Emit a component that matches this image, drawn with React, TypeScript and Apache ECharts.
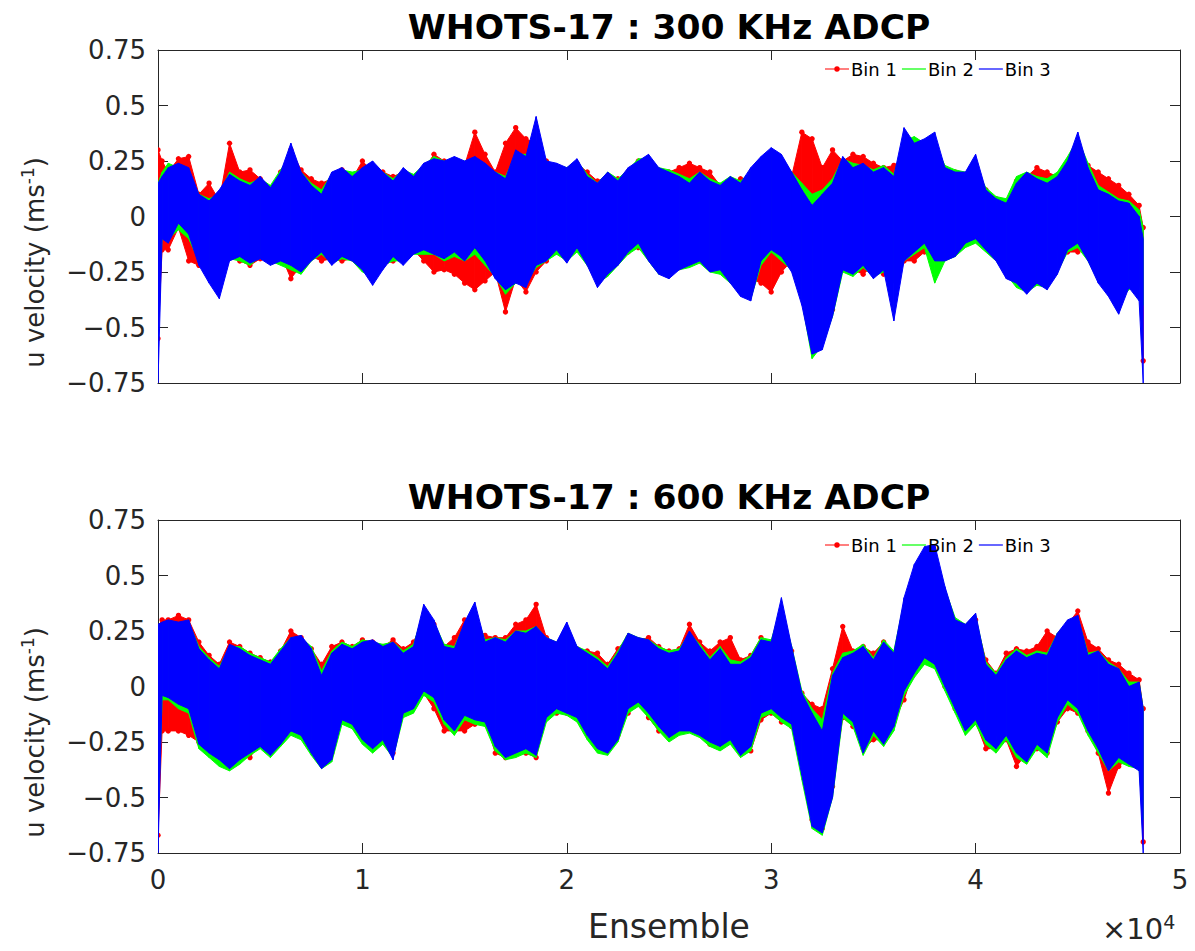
import React, { useEffect, useRef } from 'react';
import * as echarts from 'echarts';

// ---- sampling grid (ensemble numbers) ----
const ensembles: number[] = [0, 200, ...Array.from({ length: 96 }, (_, i) => (i + 1) * 500), 48200];

// ---- 300 KHz ADCP (top) : envelopes ----
const top300Bin1Hi = [
  0.3, 0.25, 0.2, 0.26, 0.27, 0.1, 0.15, 0.07, 0.33, 0.2,
  0.21, 0.17, 0.13, 0.2, 0.3, 0.21, 0.17, 0.15, 0.17, 0.21,
  0.17, 0.25, 0.2, 0.2, 0.18, 0.2, 0.17, 0.21, 0.28, 0.25,
  0.24, 0.23, 0.38, 0.28, 0.2, 0.33, 0.4, 0.35, 0.33, 0.25,
  0.22, 0.2, 0.24, 0.2, 0.16, 0.18, 0.17, 0.2, 0.25, 0.24,
  0.18, 0.2, 0.22, 0.24, 0.22, 0.2, 0.14, 0.15, 0.17, 0.16,
  0.18, 0.25, 0.22, 0.18, 0.38, 0.35, 0.22, 0.3, 0.25, 0.28,
  0.27, 0.24, 0.22, 0.23, 0.26, 0.3, 0.32, 0.28, 0.2, 0.2,
  0.18, 0.16, 0.12, 0.08, 0.05, 0.16, 0.18, 0.22, 0.2, 0.18,
  0.22, 0.27, 0.23, 0.2, 0.17, 0.14, 0.1, 0.05, -0.05,
];
const top300Bin1Lo = [
  -0.55, -0.15, -0.15, -0.05, -0.2, -0.22, -0.2, -0.22, -0.17, -0.2,
  -0.22, -0.19, -0.19, -0.17, -0.28, -0.22, -0.18, -0.2, -0.19, -0.2,
  -0.19, -0.21, -0.23, -0.22, -0.2, -0.17, -0.15, -0.2, -0.25, -0.24,
  -0.26, -0.3, -0.33, -0.29, -0.25, -0.43, -0.28, -0.34, -0.25, -0.2,
  -0.16, -0.18, -0.15, -0.2, -0.25, -0.24, -0.2, -0.16, -0.14, -0.18,
  -0.2, -0.2, -0.23, -0.21, -0.2, -0.22, -0.2, -0.24, -0.26, -0.28,
  -0.3, -0.34, -0.25, -0.2, -0.24, -0.12, -0.25, -0.42, -0.22, -0.24,
  -0.26, -0.22, -0.26, -0.18, -0.2, -0.2, -0.16, -0.18, -0.18, -0.15,
  -0.12, -0.1, -0.08, -0.05, -0.12, -0.22, -0.26, -0.24, -0.22, -0.2,
  -0.16, -0.16, -0.14, -0.2, -0.24, -0.25, -0.2, -0.15, -0.65,
];
const top300Bin2Hi = [
  0.15, 0.2, 0.24, 0.22, 0.2, 0.1, 0.08, 0.1, 0.2, 0.17,
  0.15, 0.17, 0.14, 0.21, 0.28, 0.2, 0.15, 0.12, 0.19, 0.21,
  0.2, 0.21, 0.24, 0.2, 0.17, 0.21, 0.19, 0.23, 0.27, 0.25,
  0.24, 0.25, 0.24, 0.22, 0.2, 0.18, 0.28, 0.28, 0.3, 0.25,
  0.23, 0.22, 0.25, 0.19, 0.15, 0.2, 0.17, 0.21, 0.26, 0.26,
  0.22, 0.21, 0.19, 0.17, 0.2, 0.17, 0.15, 0.18, 0.16, 0.2,
  0.26, 0.3, 0.27, 0.2, 0.15, 0.1, 0.12, 0.17, 0.26, 0.24,
  0.23, 0.21, 0.23, 0.19, 0.34, 0.36, 0.33, 0.33, 0.23, 0.21,
  0.2, 0.22, 0.13, 0.09, 0.08, 0.18, 0.2, 0.18, 0.17, 0.2,
  0.27, 0.35, 0.24, 0.14, 0.11, 0.08, 0.07, 0.03, -0.05,
];
const top300Bin2Lo = [
  -0.45, -0.1, -0.1, -0.06, -0.1, -0.2, -0.27, -0.33, -0.19, -0.2,
  -0.22, -0.18, -0.2, -0.22, -0.24, -0.26, -0.2, -0.17, -0.21, -0.19,
  -0.2, -0.25, -0.27, -0.22, -0.2, -0.2, -0.17, -0.17, -0.17, -0.2,
  -0.18, -0.2, -0.17, -0.22, -0.27, -0.35, -0.3, -0.3, -0.23, -0.2,
  -0.17, -0.2, -0.16, -0.22, -0.3, -0.27, -0.22, -0.17, -0.14, -0.2,
  -0.26, -0.26, -0.24, -0.23, -0.21, -0.25, -0.26, -0.3, -0.35, -0.37,
  -0.22, -0.16, -0.2, -0.24, -0.38, -0.64, -0.58, -0.45, -0.25, -0.27,
  -0.23, -0.27, -0.25, -0.3, -0.2, -0.17, -0.14, -0.3, -0.2, -0.18,
  -0.14, -0.12, -0.16, -0.2, -0.26, -0.32, -0.34, -0.31, -0.32, -0.25,
  -0.16, -0.14, -0.2, -0.29, -0.35, -0.38, -0.33, -0.3, -0.4,
];
const top300Bin3Hi = [
  0.15, 0.18, 0.22, 0.24, 0.22, 0.1, 0.07, 0.12, 0.19, 0.16,
  0.14, 0.18, 0.13, 0.2, 0.33, 0.2, 0.14, 0.1, 0.2, 0.22,
  0.18, 0.22, 0.25, 0.2, 0.16, 0.22, 0.18, 0.24, 0.26, 0.25,
  0.27, 0.25, 0.27, 0.24, 0.2, 0.17, 0.3, 0.27, 0.45, 0.25,
  0.24, 0.22, 0.26, 0.18, 0.15, 0.2, 0.16, 0.22, 0.25, 0.28,
  0.22, 0.2, 0.18, 0.15, 0.2, 0.16, 0.14, 0.18, 0.15, 0.22,
  0.27, 0.31, 0.28, 0.2, 0.12, 0.05, 0.1, 0.15, 0.27, 0.22,
  0.24, 0.2, 0.22, 0.18, 0.4, 0.33, 0.35, 0.38, 0.22, 0.2,
  0.2, 0.28, 0.12, 0.08, 0.06, 0.15, 0.2, 0.17, 0.15, 0.18,
  0.25, 0.38, 0.22, 0.12, 0.1, 0.07, 0.06, 0.0, -0.1,
];
const top300Bin3Lo = [
  -0.75, -0.1, -0.12, -0.03, -0.08, -0.22, -0.3, -0.37, -0.2, -0.18,
  -0.21, -0.19, -0.22, -0.2, -0.22, -0.25, -0.2, -0.16, -0.22, -0.18,
  -0.2, -0.24, -0.31, -0.24, -0.18, -0.22, -0.17, -0.15, -0.17, -0.19,
  -0.16, -0.2, -0.14, -0.2, -0.28, -0.33, -0.3, -0.32, -0.22, -0.2,
  -0.15, -0.21, -0.14, -0.22, -0.32, -0.26, -0.22, -0.16, -0.12, -0.2,
  -0.26, -0.28, -0.24, -0.22, -0.2, -0.25, -0.24, -0.3, -0.36, -0.38,
  -0.2, -0.15, -0.18, -0.25, -0.4, -0.62, -0.6, -0.45, -0.24, -0.26,
  -0.22, -0.28, -0.24, -0.47, -0.2, -0.16, -0.12, -0.2, -0.2, -0.18,
  -0.12, -0.1, -0.15, -0.2, -0.28, -0.3, -0.35, -0.3, -0.33, -0.26,
  -0.15, -0.12, -0.2, -0.3, -0.36, -0.44, -0.32, -0.38, -0.75,
];

// ---- 600 KHz ADCP (bottom) ----
const bot600Bin1Hi = [
  0.27, 0.3, 0.3, 0.32, 0.3, 0.2, 0.14, 0.1, 0.2, 0.18,
  0.15, 0.13, 0.11, 0.16, 0.25, 0.22, 0.17, 0.1, 0.18, 0.2,
  0.18, 0.21, 0.2, 0.18, 0.21, 0.17, 0.2, 0.3, 0.28, 0.18,
  0.22, 0.3, 0.28, 0.23, 0.22, 0.22, 0.28, 0.3, 0.37, 0.22,
  0.18, 0.25, 0.17, 0.16, 0.15, 0.1, 0.17, 0.22, 0.21, 0.22,
  0.18, 0.16, 0.17, 0.28, 0.2, 0.16, 0.2, 0.22, 0.12, 0.14,
  0.22, 0.2, 0.32, 0.16, -0.03, -0.08, -0.1, 0.08, 0.27, 0.16,
  0.18, 0.15, 0.2, 0.14, 0.25, 0.3, 0.3, 0.48, 0.35, 0.27,
  0.26, 0.3, 0.12, 0.06, 0.15, 0.17, 0.16, 0.18, 0.25, 0.22,
  0.28, 0.34, 0.2, 0.17, 0.12, 0.1, 0.06, 0.03, -0.1,
];
const bot600Bin1Lo = [
  -0.67, -0.2, -0.2, -0.2, -0.22, -0.25, -0.3, -0.33, -0.34, -0.3,
  -0.32, -0.25, -0.28, -0.25, -0.2, -0.22, -0.28, -0.34, -0.3, -0.14,
  -0.16, -0.22, -0.26, -0.2, -0.3, -0.1, -0.08, -0.03, -0.1, -0.2,
  -0.2, -0.2, -0.17, -0.15, -0.3, -0.32, -0.3, -0.3, -0.32, -0.13,
  -0.12, -0.12, -0.13, -0.2, -0.27, -0.28, -0.22, -0.12, -0.08, -0.14,
  -0.2, -0.22, -0.2, -0.18, -0.2, -0.26, -0.24, -0.22, -0.3, -0.29,
  -0.15, -0.12, -0.16, -0.18, -0.35, -0.6, -0.64, -0.45, -0.14, -0.18,
  -0.28, -0.24, -0.24, -0.16, -0.06, 0.08, 0.12, 0.12, 0.0, -0.1,
  -0.18, -0.16, -0.28, -0.28, -0.24, -0.36, -0.3, -0.28, -0.3, -0.16,
  -0.1, -0.12, -0.2, -0.3, -0.48, -0.36, -0.32, -0.3, -0.7,
];
const bot600Bin2Hi = [
  0.26, 0.28, 0.29, 0.28, 0.29, 0.18, 0.13, 0.09, 0.18, 0.18,
  0.15, 0.13, 0.11, 0.17, 0.22, 0.22, 0.18, 0.07, 0.16, 0.2,
  0.18, 0.21, 0.2, 0.19, 0.2, 0.16, 0.19, 0.34, 0.29, 0.19,
  0.18, 0.28, 0.34, 0.21, 0.22, 0.21, 0.25, 0.25, 0.27, 0.22,
  0.2, 0.27, 0.18, 0.16, 0.13, 0.09, 0.16, 0.24, 0.22, 0.21,
  0.18, 0.16, 0.17, 0.24, 0.19, 0.13, 0.18, 0.12, 0.11, 0.14,
  0.22, 0.21, 0.36, 0.18, -0.02, -0.1, -0.15, 0.06, 0.15, 0.16,
  0.19, 0.13, 0.21, 0.16, 0.38, 0.52, 0.6, 0.6, 0.44, 0.31,
  0.28, 0.32, 0.11, 0.06, 0.13, 0.17, 0.14, 0.16, 0.15, 0.24,
  0.29, 0.31, 0.15, 0.16, 0.11, 0.08, 0.02, 0.02, -0.1,
];
const bot600Bin2Lo = [
  -0.6, -0.06, -0.06, -0.1, -0.12, -0.28, -0.32, -0.36, -0.38, -0.35,
  -0.31, -0.28, -0.32, -0.27, -0.22, -0.24, -0.31, -0.37, -0.34, -0.17,
  -0.19, -0.26, -0.3, -0.26, -0.32, -0.14, -0.12, -0.04, -0.07, -0.17,
  -0.22, -0.15, -0.17, -0.18, -0.29, -0.33, -0.32, -0.3, -0.32, -0.16,
  -0.12, -0.13, -0.16, -0.24, -0.3, -0.31, -0.25, -0.12, -0.09, -0.14,
  -0.2, -0.25, -0.22, -0.21, -0.23, -0.27, -0.29, -0.26, -0.32, -0.29,
  -0.14, -0.12, -0.16, -0.19, -0.42, -0.64, -0.67, -0.5, -0.14, -0.18,
  -0.31, -0.22, -0.27, -0.2, -0.04, 0.04, 0.1, 0.08, -0.02, -0.12,
  -0.22, -0.17, -0.26, -0.3, -0.24, -0.32, -0.35, -0.28, -0.32, -0.16,
  -0.08, -0.12, -0.22, -0.3, -0.38, -0.34, -0.36, -0.37, -0.6,
];
const bot600Bin3Hi = [
  0.28, 0.29, 0.3, 0.29, 0.3, 0.17, 0.12, 0.08, 0.19, 0.17,
  0.14, 0.12, 0.1, 0.16, 0.22, 0.23, 0.17, 0.05, 0.15, 0.19,
  0.17, 0.2, 0.21, 0.18, 0.2, 0.15, 0.18, 0.37, 0.3, 0.18,
  0.17, 0.29, 0.38, 0.2, 0.22, 0.2, 0.25, 0.24, 0.27, 0.22,
  0.2, 0.29, 0.18, 0.15, 0.12, 0.08, 0.15, 0.24, 0.22, 0.21,
  0.17, 0.15, 0.16, 0.25, 0.18, 0.12, 0.17, 0.1, 0.1, 0.13,
  0.21, 0.2, 0.4, 0.18, -0.03, -0.12, -0.2, 0.05, 0.13, 0.15,
  0.18, 0.12, 0.2, 0.15, 0.4, 0.55, 0.63, 0.64, 0.45, 0.3,
  0.28, 0.33, 0.1, 0.05, 0.12, 0.16, 0.13, 0.15, 0.14, 0.24,
  0.3, 0.32, 0.14, 0.16, 0.1, 0.08, 0.0, 0.02, -0.1,
];
const bot600Bin3Lo = [
  -0.75, -0.04, -0.05, -0.08, -0.1, -0.26, -0.3, -0.33, -0.37, -0.33,
  -0.3, -0.27, -0.31, -0.26, -0.2, -0.22, -0.3, -0.37, -0.33, -0.15,
  -0.17, -0.24, -0.28, -0.24, -0.33, -0.12, -0.1, -0.02, -0.05, -0.15,
  -0.2, -0.13, -0.15, -0.16, -0.27, -0.32, -0.3, -0.28, -0.31, -0.14,
  -0.1, -0.12, -0.14, -0.22, -0.28, -0.3, -0.24, -0.1, -0.07, -0.12,
  -0.18, -0.23, -0.2, -0.2, -0.22, -0.25, -0.27, -0.24, -0.31, -0.27,
  -0.12, -0.1, -0.14, -0.17, -0.4, -0.63, -0.66, -0.5, -0.12, -0.16,
  -0.3, -0.2, -0.26, -0.18, -0.02, 0.06, 0.13, 0.1, 0.0, -0.1,
  -0.2, -0.15, -0.24, -0.28, -0.22, -0.3, -0.34, -0.26, -0.3, -0.14,
  -0.06, -0.1, -0.2, -0.28, -0.38, -0.32, -0.35, -0.38, -0.75,
];

const seriesNames = ['Bin 1', 'Bin 2', 'Bin 3'];
const seriesColors = ['#ff0000', '#00ff00', '#0000ff'];
const titles = ['WHOTS-17 : 300 KHz ADCP', 'WHOTS-17 : 600 KHz ADCP'];
const yTicks = [-0.75, -0.5, -0.25, 0, 0.25, 0.5, 0.75];
const xTicks = [0, 10000, 20000, 30000, 40000, 50000];

const FONT = 'DejaVu Sans';
const AX = '#262626';

function buildBand(lo: number[], hi: number[]) {
  const out: number[][] = [];
  const n = Math.min(ensembles.length, lo.length, hi.length);
  for (let i = 0; i < n - 1; i++) {
    out.push([ensembles[i], lo[i], hi[i], ensembles[i + 1], lo[i + 1], hi[i + 1]]);
  }
  return out;
}

function bandSeries(name: string, color: string, lo: number[], hi: number[], axis: number, dots: boolean) {
  const data = buildBand(lo, hi);
  const last = data.length - 1;
  return {
    type: 'custom',
    name,
    xAxisIndex: axis,
    yAxisIndex: axis,
    clip: true,
    itemStyle: { color },
    encode: { x: [0, 3], y: [1, 2, 4, 5] },
    data,
    renderItem: (params: any, api: any) => {
      const a = api.coord([api.value(0), api.value(2)]);
      const b = api.coord([api.value(3), api.value(5)]);
      const c = api.coord([api.value(3), api.value(4)]);
      const d = api.coord([api.value(0), api.value(1)]);
      const children: any[] = [
        { type: 'polygon', shape: { points: [a, b, c, d] }, style: { fill: color, stroke: color, lineWidth: 1 } },
      ];
      if (dots) {
        const pts = params.dataIndex === last ? [a, d, b, c] : [a, d];
        pts.forEach((p: number[]) => children.push({ type: 'circle', shape: { cx: p[0], cy: p[1], r: 2.7 }, style: { fill: color } }));
      }
      return { type: 'group', children };
    },
  };
}

const dotLineIcon = 'path://M0,2.3 L24,2.3 L24,3.5 L0,3.5 Z M9.3,2.9 A2.7,2.7 0 1,1 14.7,2.9 A2.7,2.7 0 1,1 9.3,2.9 Z';
const lineIcon = 'path://M0,0 L24,0 L24,1.2 L0,1.2 Z';

const minusFmt = (v: number) => String(v).replace('-', '\u2212');

function makeOption() {
  const grids = [
    { left: 158, top: 50, width: 1022, height: 333 },
    { left: 158, top: 520, width: 1022, height: 333 },
  ];
  const axisLine = { show: true, onZero: false, lineStyle: { color: AX, width: 1 } };
  const tick = { show: true, inside: true, length: 10, lineStyle: { color: AX, width: 1 } };
  const xAxes: any[] = [];
  const yAxes: any[] = [];
  [0, 1].forEach((g) => {
    ['bottom', 'top'].forEach((pos) => {
      const labelled = g === 1 && pos === 'bottom';
      xAxes.push({
        type: 'value', gridIndex: g, position: pos, min: xTicks[0], max: xTicks[xTicks.length - 1], interval: xTicks[1] - xTicks[0],
        axisLine, axisTick: tick, splitLine: { show: false },
        axisLabel: { show: labelled, formatter: (v: number) => String(v / 10000), fontSize: 26, color: AX, fontFamily: FONT, margin: 14 },
        name: labelled ? 'Ensemble' : '', nameLocation: 'middle', nameGap: 57,
        nameTextStyle: { fontSize: 33, color: AX, fontFamily: FONT },
      });
    });
    ['left', 'right'].forEach((pos) => {
      const labelled = pos === 'left';
      yAxes.push({
        type: 'value', gridIndex: g, position: pos, min: yTicks[0], max: yTicks[yTicks.length - 1], interval: 0.25,
        axisLine, axisTick: tick, splitLine: { show: false },
        axisLabel: { show: labelled, fontSize: 26, color: AX, fontFamily: FONT, margin: 12, formatter: minusFmt },
        name: labelled ? 'u velocity (ms{sup|-1})' : '', nameLocation: 'middle', nameGap: 108,
        nameTextStyle: {
          fontSize: 26, color: AX, fontFamily: FONT, padding: [0, 92, 0, 0],
          rich: { sup: { fontSize: 17, color: AX, fontFamily: FONT, padding: [0, 0, 14, 0] } },
        },
      });
    });
  });

  const lows = [[top300Bin1Lo, top300Bin2Lo, top300Bin3Lo], [bot600Bin1Lo, bot600Bin2Lo, bot600Bin3Lo]];
  const highs = [[top300Bin1Hi, top300Bin2Hi, top300Bin3Hi], [bot600Bin1Hi, bot600Bin2Hi, bot600Bin3Hi]];
  const series: any[] = [];
  [0, 1].forEach((g) => {
    seriesNames.forEach((nm, i) => {
      series.push(bandSeries(nm, seriesColors[i], lows[g][i], highs[g][i], g * 2, i === 0));
    });
  });

  const legendData = [
    { name: seriesNames[0], icon: dotLineIcon },
    { name: seriesNames[1], icon: lineIcon },
    { name: seriesNames[2], icon: lineIcon },
  ];
  const legendBase = {
    orient: 'horizontal', itemWidth: 24, itemHeight: 10, itemGap: 5, selectedMode: false,
    textStyle: { fontSize: 18, color: '#000', fontFamily: FONT, padding: [0, 0, 0, -3] },
    data: legendData,
  };
  const titleStyle = { fontSize: 34.5, fontWeight: 'bold', color: '#000', fontFamily: FONT };

  return {
    animation: false,
    backgroundColor: '#ffffff',
    title: [
      { text: titles[0], left: 669, textAlign: 'center', top: 9, padding: 0, textStyle: titleStyle },
      { text: titles[1], left: 669, textAlign: 'center', top: 479, padding: 0, textStyle: titleStyle },
    ],
    legend: [
      { ...legendBase, left: 820, top: 55 },
      { ...legendBase, left: 820, top: 531 },
    ],
    grid: grids,
    xAxis: xAxes,
    yAxis: yAxes,
    series,
    graphic: [
      {
        type: 'text', left: 1102, top: 912,
        style: {
          text: '{a|×10}{b|4}',
          rich: {
            a: { fontSize: 29, fontFamily: FONT, fill: AX, lineHeight: 32 },
            b: { fontSize: 19, fontFamily: FONT, fill: AX, lineHeight: 32, padding: [0, 0, 14, 0] },
          },
        },
      },
    ],
  };
}

export default function App() {
  const ref = useRef<HTMLDivElement>(null);
  useEffect(() => {
    if (!ref.current) return;
    const chart = echarts.init(ref.current, undefined, { renderer: 'svg' });
    chart.setOption(makeOption() as any);
    return () => chart.dispose();
  }, []);
  return (
    <div
      ref={ref}
      style={{ position: 'absolute', left: 0, top: 0, width: 1195, height: 951, background: '#fff' }}
    />
  );
}
